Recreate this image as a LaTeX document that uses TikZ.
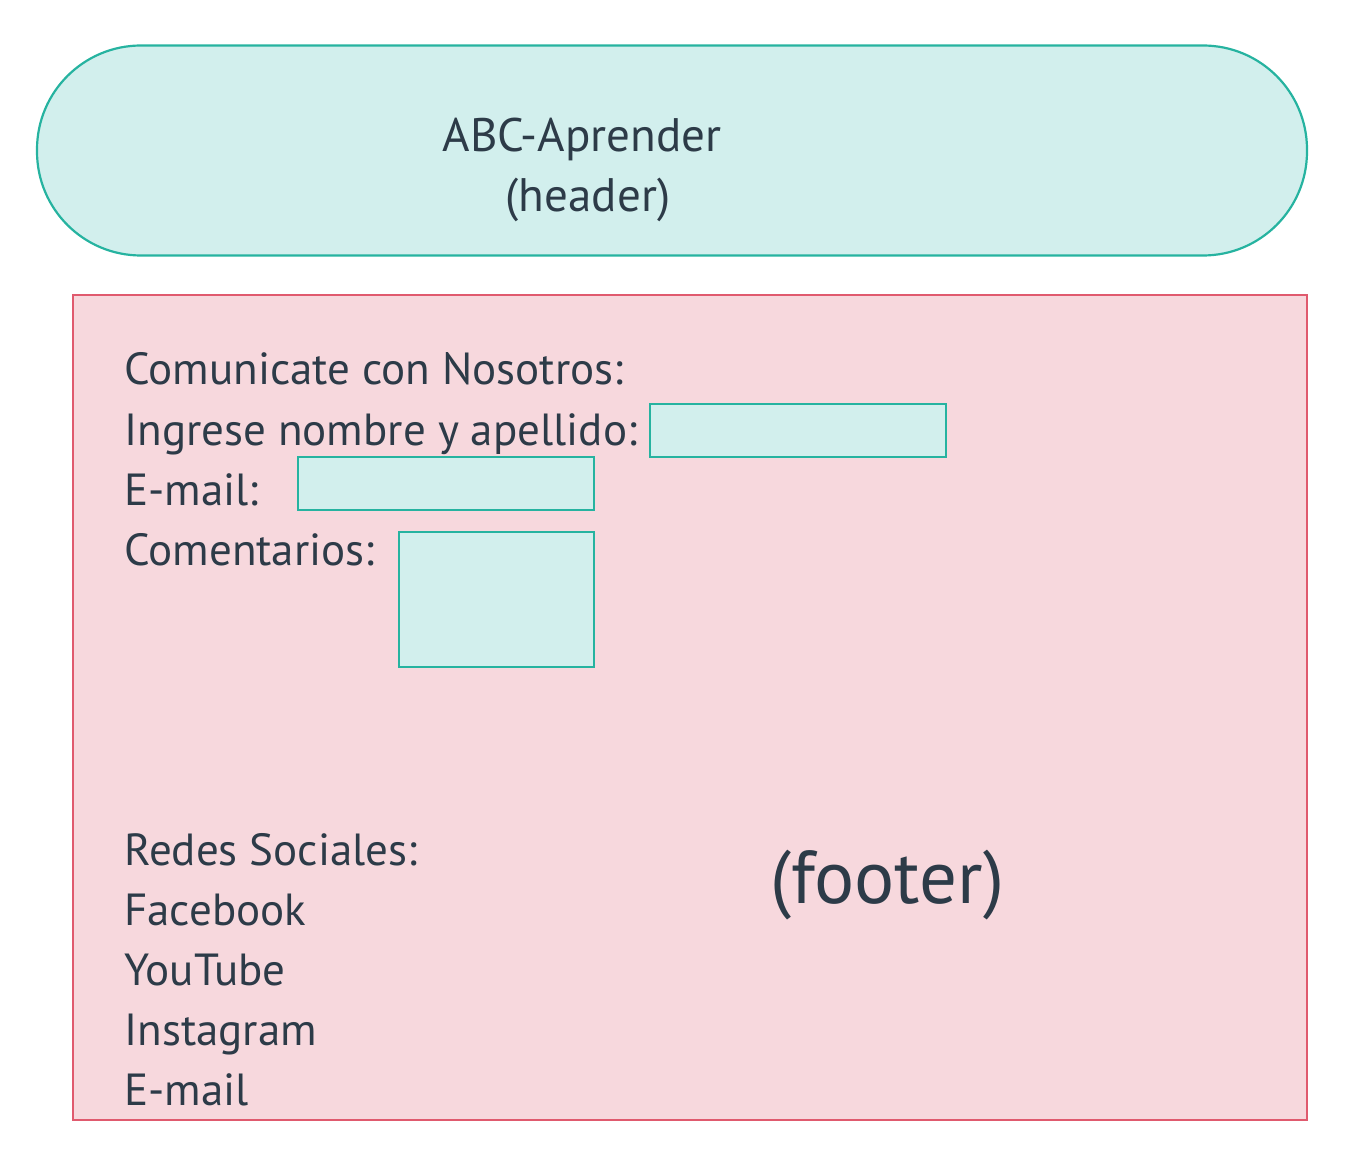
\documentclass[tikz,border=0pt]{standalone}
\usepackage{fontspec}
\setmainfont{PT Sans}
\definecolor{tealline}{HTML}{26B3A0}
\definecolor{tealfill}{HTML}{D2EFED}
\definecolor{rosaline}{HTML}{E05A6E}
\definecolor{rosafill}{HTML}{F7D8DD}
\definecolor{texto}{HTML}{2D3B48}
\begin{document}
\begin{tikzpicture}[x=0.5pt,y=-0.5pt,
		campo/.style={draw=tealline,fill=tealfill,line width=1.1pt,inner sep=0pt},
		etiqueta/.style={anchor=base west,inner sep=0pt,text=texto,font=\fontsize{22.5}{30}\selectfont}]
	\useasboundingbox (0,0) rectangle (1350,1155);
	% header
	\node[campo,rounded corners=52pt,minimum width=635pt,minimum height=105pt] (header) at (672,150.5) {};
	\node[etiqueta,anchor=base,font=\fontsize{23.5}{30}\selectfont] (titulo) at (582,152) {ABC-Aprender};
	\node[etiqueta,anchor=base,font=\fontsize{23.5}{30}\selectfont] (nota) at (588,212) {(header)};
	% footer
	\node[draw=rosaline,fill=rosafill,line width=1.1pt,inner sep=0pt,minimum width=617pt,minimum height=412.5pt] (footer) at (690,707.5) {};
	\node[etiqueta] (comunicate) at (124,385) {Comunicate con Nosotros:};
	\node[etiqueta] (nombre) at (124,445) {Ingrese nombre y apellido:};
	\node[etiqueta] (email) at (124,505) {E-mail:};
	\node[etiqueta] (comentarios) at (124,565) {Comentarios:};
	\node[campo,minimum width=148pt,minimum height=26.5pt] (camponombre) at (798,430.5) {};
	\node[campo,minimum width=148pt,minimum height=26.5pt] (campoemail) at (446,483.5) {};
	\node[campo,minimum width=97.5pt,minimum height=67.5pt] (campocoment) at (496.5,599.5) {};
	\node[etiqueta] (redes) at (124,865) {Redes Sociales:};
	\foreach \red [count=\i] in {Facebook,YouTube,Instagram,E-mail}{
		\node[etiqueta] (red\i) at (124,865+60*\i) {\red};
	}
	\node[etiqueta,font=\fontsize{37.5}{40}\selectfont] (pie) at (770,903) {(footer)};
\end{tikzpicture}
\end{document}
